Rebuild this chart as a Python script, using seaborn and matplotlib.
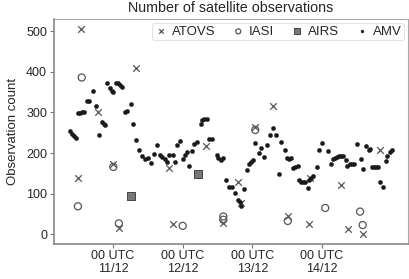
import pandas as pd
import matplotlib
matplotlib.use("Agg")
import matplotlib.pyplot as plt
import seaborn as sns

# hours since 10/12 00 UTC, observation counts
amv_hours = [9.2, 10.0, 10.6, 11.2, 11.9, 12.6, 13.3, 14.0, 15.1, 15.8, 17.2, 18.0, 19.1,
             20.3, 20.9, 21.3, 22.0, 23.0, 23.7, 24.1, 25.0, 25.7, 26.4, 27.1, 28.0, 28.7,
             30.1, 31.0, 32.0, 33.1, 34.0, 34.9, 36.1, 37.1, 38.0, 39.2, 40.1, 40.9, 41.8,
             42.5, 43.4, 44.8, 45.3, 46.1, 47.1, 48.0, 48.8, 49.4, 50.2, 51.1, 51.9, 52.8,
             54.2, 54.8, 55.5, 56.3, 57.1, 58.0, 59.7, 60.3, 61.1, 62.0, 62.9, 64.1, 65.0,
             66.1, 67.1, 67.6, 68.2, 69.1, 70.2, 70.8, 71.4, 72.2, 73.0, 74.2, 75.1, 76.0,
             77.2, 78.1, 79.0, 80.3, 81.1, 82.0, 83.1, 84.0, 84.6, 85.2, 86.1, 86.8, 87.6,
             88.2, 88.9, 89.6, 90.2, 91.1, 91.6, 92.3, 93.0, 94.2, 95.1, 96.0, 98.1, 99.0,
             99.9, 100.6, 101.3, 102.0, 102.6, 103.3, 104.3, 104.7, 105.6, 106.3, 107.0,
             108.2, 109.3, 110.2, 111.2, 112.1, 112.5, 113.2, 113.9, 114.6, 115.3, 116.0,
             117.1, 118.0, 118.5, 119.4, 120.1]
amv_counts = [254, 247, 242, 236, 298, 299, 300, 301, 328, 329, 354, 316, 245,
              276, 272, 268, 372, 359, 354, 351, 373, 372, 368, 363, 301, 304,
              321, 272, 231, 208, 194, 185, 189, 175, 197, 220, 195, 191, 185,
              179, 195, 195, 179, 220, 230, 185, 195, 202, 169, 204, 222, 228,
              272, 281, 284, 284, 235, 235, 195, 189, 182, 187, 134, 117, 116,
              101, 84, 80, 71, 112, 158, 172, 178, 182, 224, 200, 212, 191,
              220, 245, 261, 245, 148, 228, 208, 189, 186, 187, 163, 167, 169,
              134, 130, 128, 130, 115, 134, 139, 144, 167, 208, 226, 205, 172,
              185, 189, 190, 192, 194, 192, 183, 169, 174, 172, 174,
              222, 185, 161, 218, 207, 210, 165, 165, 165, 165, 128,
              117, 181, 194, 202, 208]

atovs_hours = [11.9, 13.1, 18.9, 24.1, 26.0, 31.9, 43.2, 44.8, 56.0, 62.0, 67.2, 68.1,
               72.9, 79.0, 84.2, 91.4, 91.9, 102.6, 105.1, 110.0, 116.0]
atovs_counts = [139, 506, 301, 173, 15, 409, 164, 25, 218, 28, 130, 76,
                265, 317, 45, 25, 138, 121, 12, 2, 208]

iasi_hours = [11.9, 13.2, 24.1, 26.0, 48.0, 62.0, 62.0, 73.0, 84.2, 97.1, 109.1, 110.0]
iasi_counts = [69, 386, 166, 27, 21, 44, 36, 257, 33, 65, 56, 23]

airs_hours = [30.1, 53.4]
airs_counts = [95, 148]

tick_hours = [24, 48, 72, 96]
tick_labels = ["00 UTC\n11/12", "00 UTC\n12/12", "00 UTC\n13/12", "00 UTC\n14/12"]

sns.set_style("white")
plt.rcParams['font.family'] = ['Liberation Sans', 'DejaVu Sans']

fig = plt.figure(figsize=(4.1, 2.79), dpi=100)
ax = fig.add_axes([0.132, 0.125, 0.863, 0.807])

sns.scatterplot(x=atovs_hours, y=atovs_counts, marker="x", s=22, color="#555555",
                linewidth=0.9, label="ATOVS", ax=ax)
sns.scatterplot(x=iasi_hours, y=iasi_counts, marker="o", s=26, facecolor="none",
                edgecolor="#555555", linewidth=0.9, label="IASI", ax=ax)
sns.scatterplot(x=airs_hours, y=airs_counts, marker="s", s=38, color="#777777",
                edgecolor="#444444", linewidth=0.7, label="AIRS", ax=ax)
sns.scatterplot(x=amv_hours, y=amv_counts, marker="o", s=9, color="#1a1a1a",
                edgecolor="#1a1a1a", linewidth=0.3, label="AMV", ax=ax)

ax.set_xlim(3.7, 125.6)
ax.set_ylim(-24, 530)
ax.set_xticks(tick_hours)
ax.set_xticklabels(tick_labels, linespacing=1.15)
ax.set_yticks([0, 100, 200, 300, 400, 500])
ax.tick_params(axis="both", direction="out", length=3, width=0.8, color="#777777",
               labelsize=9, pad=2, bottom=True, left=True)
ax.tick_params(axis="x", pad=1)
for side in ["left", "bottom"]:
    ax.spines[side].set_color("#888888")
    ax.spines[side].set_linewidth(1.2)
for side in ["top", "right"]:
    ax.spines[side].set_color("#aaaaaa")
    ax.spines[side].set_linewidth(0.8)

ax.set_xlabel("")
ax.set_ylabel("Observation count", fontsize=9.5, labelpad=5)
ax.set_title("Number of satellite observations", fontsize=10.3, pad=5)

leg = ax.legend(loc="upper right", ncol=4, fontsize=9.5, frameon=True, markerscale=0.7,
                handletextpad=0.3, columnspacing=1.25, borderpad=0.2,
                handlelength=1.0, borderaxespad=0.3)
leg.get_frame().set_edgecolor("#dddddd")
leg.get_frame().set_linewidth(0.8)

fig.savefig("out.png", dpi=100)
